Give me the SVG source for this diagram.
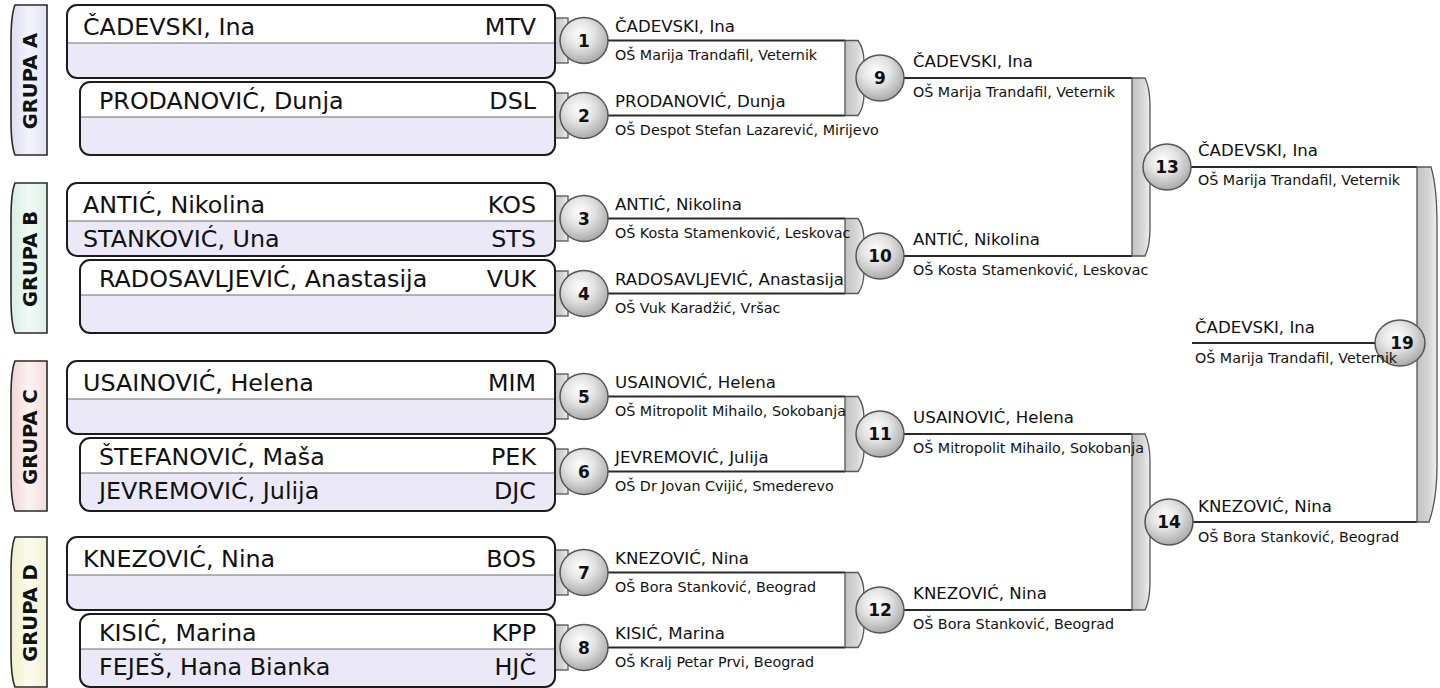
<svg xmlns="http://www.w3.org/2000/svg" width="1440" height="688" viewBox="0 0 1440 688">
<defs>
<radialGradient id="ball" cx="0.42" cy="0.36" r="0.68">
<stop offset="0" stop-color="#ffffff"/><stop offset="0.45" stop-color="#e2e2e2"/><stop offset="1" stop-color="#a4a4a4"/>
</radialGradient>
<linearGradient id="gray" x1="0" y1="0" x2="1" y2="0">
<stop offset="0" stop-color="#c2c2c2"/><stop offset="0.6" stop-color="#d6d6d6"/><stop offset="1" stop-color="#f0f0f0"/>
</linearGradient>
<linearGradient id="tA" x1="0" y1="0" x2="1" y2="0"><stop offset="0" stop-color="#dcdcf4"/><stop offset="0.5" stop-color="#f4f4fc"/><stop offset="1" stop-color="#e2e2f6"/></linearGradient>
<linearGradient id="tB" x1="0" y1="0" x2="1" y2="0"><stop offset="0" stop-color="#d6eee2"/><stop offset="0.5" stop-color="#f2faf6"/><stop offset="1" stop-color="#dcf0e6"/></linearGradient>
<linearGradient id="tC" x1="0" y1="0" x2="1" y2="0"><stop offset="0" stop-color="#f2d6d6"/><stop offset="0.5" stop-color="#fcf2f2"/><stop offset="1" stop-color="#f4dcdc"/></linearGradient>
<linearGradient id="tD" x1="0" y1="0" x2="1" y2="0"><stop offset="0" stop-color="#f0f0cc"/><stop offset="0.5" stop-color="#fcfcee"/><stop offset="1" stop-color="#f2f2d4"/></linearGradient>
</defs>
<style>
text{font-family:"DejaVu Sans","Liberation Sans",sans-serif;fill:#111}
.tab{stroke:#2a2a2a;stroke-width:1.6}
.gl{font-weight:bold;font-size:19.5px;text-anchor:middle}
.r2{fill:#ebe9f8}
.r1{fill:#ffffff}
.dv{stroke:#707070;stroke-width:1.2}
.bo{fill:none;stroke:#1c1c1c;stroke-width:2}
.bn{font-size:23.8px}
.cd{font-size:23.8px;text-anchor:end}
.mc{fill:url(#ball);stroke:#555;stroke-width:1.5}
.mn{font-weight:bold;font-size:17px;text-anchor:middle}
.wn{font-size:16.6px}
.ws{font-size:14.3px}
.ln{stroke:#2a2a2a;stroke-width:2.2;fill:none}
.br{fill:url(#gray);stroke:#555;stroke-width:1.3}
</style>
<rect width="1440" height="688" fill="#ffffff"/>

<g id="connectors">
<rect class="br" x="555" y="18" width="13" height="45"/>
<rect class="br" x="555" y="93" width="13" height="45"/>
<rect class="br" x="555" y="196" width="13" height="45"/>
<rect class="br" x="555" y="271" width="13" height="45"/>
<rect class="br" x="555" y="374" width="13" height="45"/>
<rect class="br" x="555" y="449" width="13" height="45"/>
<rect class="br" x="555" y="550" width="13" height="45"/>
<rect class="br" x="555" y="625" width="13" height="45"/>
<path class="ln" d="M584,40.5H845M584,115.5H845M584,218.5H845M584,293.5H845M584,396.5H845M584,471.5H845M584,572.5H845M584,647.5H845"/>
<path class="br" d="M845,40.5H858C862,46 864,54 864,62V94C864,102 862,110 858,115.5H845Z"/>
<path class="br" d="M845,218.5H858C862,224 864,232 864,240V272C864,280 862,288 858,293.5H845Z"/>
<path class="br" d="M845,396.5H858C862,402 864,410 864,418V450C864,458 862,466 858,471.5H845Z"/>
<path class="br" d="M845,572.5H858C862,578 864,586 864,594V626C864,634 862,642 858,647.5H845Z"/>
<path class="ln" d="M880,78H1132M880,256H1132M880,434H1132M880,610H1132"/>
<path class="br" d="M1132,78H1145C1149,86 1150,96 1150,106V228C1150,238 1149,248 1145,256H1132Z"/>
<path class="br" d="M1132,434H1145C1149,442 1150,452 1150,462V582C1150,592 1149,602 1145,610H1132Z"/>
<path class="ln" d="M1167,167H1417M1169,522H1417M1192,343H1400"/>
<path class="br" d="M1417,167H1431C1435,180 1437,200 1437,225V465C1437,490 1434,508 1429,522H1417Z"/>
</g>

<g id="group-A" transform="translate(0,5)">
<path class="tab" fill="url(#tA)" d="M47,0H15Q11,10 11,35V115Q11,140 15,150H47Z"/>
<text class="gl" transform="translate(37,76) rotate(-90)">GRUPA A</text>
</g>
<g id="group-B" transform="translate(0,183)">
<path class="tab" fill="url(#tB)" d="M47,0H15Q11,10 11,35V115Q11,140 15,150H47Z"/>
<text class="gl" transform="translate(37,76) rotate(-90)">GRUPA B</text>
</g>
<g id="group-C" transform="translate(0,361)">
<path class="tab" fill="url(#tC)" d="M47,0H15Q11,10 11,35V115Q11,140 15,150H47Z"/>
<text class="gl" transform="translate(37,76) rotate(-90)">GRUPA C</text>
</g>
<g id="group-D" transform="translate(0,537)">
<path class="tab" fill="url(#tD)" d="M47,0H15Q11,10 11,35V115Q11,140 15,150H47Z"/>
<text class="gl" transform="translate(37,76) rotate(-90)">GRUPA D</text>
</g>

<g id="box-A1" transform="translate(0,5)">
<rect class="r2" x="67" y="0" width="488" height="73" rx="10"/>
<path class="r1" d="M67,38V10Q67,0 77,0H545Q555,0 555,10V38Z"/>
<line class="dv" x1="67" y1="38" x2="555" y2="38"/>
<rect class="bo" x="67" y="0" width="488" height="73" rx="10"/>
<text class="bn" x="83" y="30">ČADEVSKI, Ina</text><text class="cd" x="536" y="30">MTV</text>
</g>
<g id="box-A2" transform="translate(0,5)">
<rect class="r2" x="80" y="77" width="475" height="73" rx="10"/>
<path class="r1" d="M80,112V87Q80,77 90,77H545Q555,77 555,87V112Z"/>
<line class="dv" x1="80" y1="112" x2="555" y2="112"/>
<rect class="bo" x="80" y="77" width="475" height="73" rx="10"/>
<text class="bn" x="99" y="104">PRODANOVIĆ, Dunja</text><text class="cd" x="536" y="104">DSL</text>
</g>
<g id="box-B1" transform="translate(0,183)">
<rect class="r2" x="67" y="0" width="488" height="73" rx="10"/>
<path class="r1" d="M67,38V10Q67,0 77,0H545Q555,0 555,10V38Z"/>
<line class="dv" x1="67" y1="38" x2="555" y2="38"/>
<rect class="bo" x="67" y="0" width="488" height="73" rx="10"/>
<text class="bn" x="83" y="30">ANTIĆ, Nikolina</text><text class="cd" x="536" y="30">KOS</text>
<text class="bn" x="83" y="64">STANKOVIĆ, Una</text><text class="cd" x="536" y="64">STS</text>
</g>
<g id="box-B2" transform="translate(0,183)">
<rect class="r2" x="80" y="77" width="475" height="73" rx="10"/>
<path class="r1" d="M80,112V87Q80,77 90,77H545Q555,77 555,87V112Z"/>
<line class="dv" x1="80" y1="112" x2="555" y2="112"/>
<rect class="bo" x="80" y="77" width="475" height="73" rx="10"/>
<text class="bn" x="99" y="104">RADOSAVLJEVIĆ, Anastasija</text><text class="cd" x="536" y="104">VUK</text>
</g>
<g id="box-C1" transform="translate(0,361)">
<rect class="r2" x="67" y="0" width="488" height="73" rx="10"/>
<path class="r1" d="M67,38V10Q67,0 77,0H545Q555,0 555,10V38Z"/>
<line class="dv" x1="67" y1="38" x2="555" y2="38"/>
<rect class="bo" x="67" y="0" width="488" height="73" rx="10"/>
<text class="bn" x="83" y="30">USAINOVIĆ, Helena</text><text class="cd" x="536" y="30">MIM</text>
</g>
<g id="box-C2" transform="translate(0,361)">
<rect class="r2" x="80" y="77" width="475" height="73" rx="10"/>
<path class="r1" d="M80,112V87Q80,77 90,77H545Q555,77 555,87V112Z"/>
<line class="dv" x1="80" y1="112" x2="555" y2="112"/>
<rect class="bo" x="80" y="77" width="475" height="73" rx="10"/>
<text class="bn" x="99" y="104">ŠTEFANOVIĆ, Maša</text><text class="cd" x="536" y="104">PEK</text>
<text class="bn" x="99" y="138">JEVREMOVIĆ, Julija</text><text class="cd" x="536" y="138">DJC</text>
</g>
<g id="box-D1" transform="translate(0,537)">
<rect class="r2" x="67" y="0" width="488" height="73" rx="10"/>
<path class="r1" d="M67,38V10Q67,0 77,0H545Q555,0 555,10V38Z"/>
<line class="dv" x1="67" y1="38" x2="555" y2="38"/>
<rect class="bo" x="67" y="0" width="488" height="73" rx="10"/>
<text class="bn" x="83" y="30">KNEZOVIĆ, Nina</text><text class="cd" x="536" y="30">BOS</text>
</g>
<g id="box-D2" transform="translate(0,537)">
<rect class="r2" x="80" y="77" width="475" height="73" rx="10"/>
<path class="r1" d="M80,112V87Q80,77 90,77H545Q555,77 555,87V112Z"/>
<line class="dv" x1="80" y1="112" x2="555" y2="112"/>
<rect class="bo" x="80" y="77" width="475" height="73" rx="10"/>
<text class="bn" x="99" y="104">KISIĆ, Marina</text><text class="cd" x="536" y="104">KPP</text>
<text class="bn" x="99" y="138">FEJEŠ, Hana Bianka</text><text class="cd" x="536" y="138">HJČ</text>
</g>

<g id="match-1"><ellipse class="mc" cx="584" cy="40.5" rx="24" ry="23"/><text class="mn" x="584" y="46.5">1</text>
<text class="wn" x="615" y="31.5">ČADEVSKI, Ina</text><text class="ws" x="615" y="60">OŠ Marija Trandafil, Veternik</text></g>
<g id="match-2"><ellipse class="mc" cx="584" cy="115.5" rx="24" ry="23"/><text class="mn" x="584" y="121.5">2</text>
<text class="wn" x="615" y="106.5">PRODANOVIĆ, Dunja</text><text class="ws" x="615" y="135">OŠ Despot Stefan Lazarević, Mirijevo</text></g>
<g id="match-3"><ellipse class="mc" cx="584" cy="218.5" rx="24" ry="23"/><text class="mn" x="584" y="224.5">3</text>
<text class="wn" x="615" y="209.5">ANTIĆ, Nikolina</text><text class="ws" x="615" y="238">OŠ Kosta Stamenković, Leskovac</text></g>
<g id="match-4"><ellipse class="mc" cx="584" cy="293.5" rx="24" ry="23"/><text class="mn" x="584" y="299.5">4</text>
<text class="wn" x="615" y="284.5">RADOSAVLJEVIĆ, Anastasija</text><text class="ws" x="615" y="313">OŠ Vuk Karadžić, Vršac</text></g>
<g id="match-5"><ellipse class="mc" cx="584" cy="396.5" rx="24" ry="23"/><text class="mn" x="584" y="402.5">5</text>
<text class="wn" x="615" y="387.5">USAINOVIĆ, Helena</text><text class="ws" x="615" y="416">OŠ Mitropolit Mihailo, Sokobanja</text></g>
<g id="match-6"><ellipse class="mc" cx="584" cy="471.5" rx="24" ry="23"/><text class="mn" x="584" y="477.5">6</text>
<text class="wn" x="615" y="462.5">JEVREMOVIĆ, Julija</text><text class="ws" x="615" y="491">OŠ Dr Jovan Cvijić, Smederevo</text></g>
<g id="match-7"><ellipse class="mc" cx="584" cy="572.5" rx="24" ry="23"/><text class="mn" x="584" y="578.5">7</text>
<text class="wn" x="615" y="563.5">KNEZOVIĆ, Nina</text><text class="ws" x="615" y="592">OŠ Bora Stanković, Beograd</text></g>
<g id="match-8"><ellipse class="mc" cx="584" cy="647.5" rx="24" ry="23"/><text class="mn" x="584" y="653.5">8</text>
<text class="wn" x="615" y="638.5">KISIĆ, Marina</text><text class="ws" x="615" y="667">OŠ Kralj Petar Prvi, Beograd</text></g>

<g id="match-9"><ellipse class="mc" cx="880" cy="78" rx="24" ry="23"/><text class="mn" x="880" y="84">9</text>
<text class="wn" x="913" y="67">ČADEVSKI, Ina</text><text class="ws" x="913" y="96.5">OŠ Marija Trandafil, Veternik</text></g>
<g id="match-10"><ellipse class="mc" cx="880" cy="256" rx="24" ry="23"/><text class="mn" x="880" y="262">10</text>
<text class="wn" x="913" y="245">ANTIĆ, Nikolina</text><text class="ws" x="913" y="274.5">OŠ Kosta Stamenković, Leskovac</text></g>
<g id="match-11"><ellipse class="mc" cx="880" cy="434" rx="24" ry="23"/><text class="mn" x="880" y="440">11</text>
<text class="wn" x="913" y="423">USAINOVIĆ, Helena</text><text class="ws" x="913" y="452.5">OŠ Mitropolit Mihailo, Sokobanja</text></g>
<g id="match-12"><ellipse class="mc" cx="880" cy="610" rx="24" ry="23"/><text class="mn" x="880" y="616">12</text>
<text class="wn" x="913" y="599">KNEZOVIĆ, Nina</text><text class="ws" x="913" y="628.5">OŠ Bora Stanković, Beograd</text></g>

<g id="match-13"><ellipse class="mc" cx="1167" cy="167" rx="24" ry="23"/><text class="mn" x="1167" y="173">13</text>
<text class="wn" x="1198" y="156">ČADEVSKI, Ina</text><text class="ws" x="1198" y="185">OŠ Marija Trandafil, Veternik</text></g>
<g id="match-14"><ellipse class="mc" cx="1169" cy="522" rx="24" ry="23"/><text class="mn" x="1169" y="528">14</text>
<text class="wn" x="1198" y="512">KNEZOVIĆ, Nina</text><text class="ws" x="1198" y="542">OŠ Bora Stanković, Beograd</text></g>
<g id="match-19"><ellipse class="mc" cx="1400" cy="343" rx="25" ry="23"/><text class="mn" x="1402" y="349">19</text>
<text class="wn" x="1195" y="333">ČADEVSKI, Ina</text><text class="ws" x="1195" y="363">OŠ Marija Trandafil, Veternik</text></g>
</svg>
